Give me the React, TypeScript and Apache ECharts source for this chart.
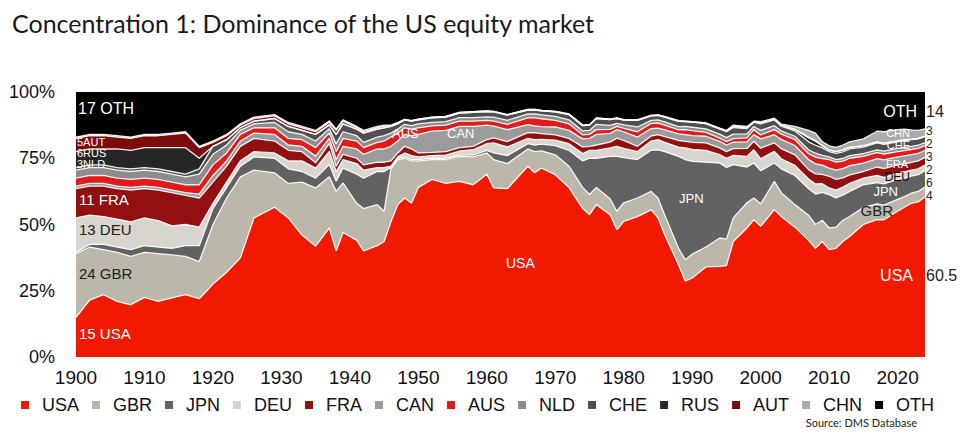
import React, { useEffect, useRef } from "react";
import * as echarts from "echarts";

const years = [1900,1902,1904,1906,1908,1910,1912,1914,1916,1918,1920,1922,1924,1926,1929,1931,1933,1935,1937,1938,1939,1941,1942,1944,1945,1946,1947,1948,1949,1950,1952,1954,1956,1958,1960,1961,1963,1966,1967,1968,1970,1972,1974,1975,1976,1978,1979,1980,1982,1984,1985,1986,1988,1989,1990,1992,1994,1995,1996,1998,1999,2000,2002,2003,2005,2007,2008,2009,2010,2011,2012,2013,2015,2017,2018,2020,2021,2022,2023,2024];

const usa = [15,21.5,23.5,21,19.7,22.5,21,22.3,23.5,22, 27.5,32,37.4,52.5,56.5, 52.5,46,41.8,48.7,40,47, 44,40,42,43.6,51,57.5,60,58, 64,67,65.5,66.3,65, 69,63.8,63.5,72,69.5,71.3, 68.8,64,56,53.7,57.5,53.7,48, 51.2,53,55.5,52.5,46,34.8,28.6, 29.8,34,34.2,34.5,43.6,48.7,51.8, 49.3,55.6,53,49,44,41,43.6, 40.5,41,43.6,45.5,50,51.8,51.8, 55,56.5,58,58.5,60.5];
const gbr = [24,20,17,18.5,18.3,17,18,16.2,14.5,14, 22.5,28,30.6,18,13, 13,20,22,19.3,22.5,18.7, 14,16,15.5,11.4,20,17,15,16, 10,7.5,9,9.4,10.5, 8,10.7,9.5,6.5,8,6.5, 7.5,8,8,7.6,6.5,6,7, 7,7,7,7.5,7.5,6.2,8.1, 9,7.5,10.7,10,8.9,9.5,8.2, 8.5,10.7,9,8.5,9.5,9,8, 8.2,8,8,7.5,6.5,6,5.5, 4.5,4,3.8,4,3.6];
const jpn = [0.5,1,2,2,2.5,2.5,2.5,2.5,4,6, 6,4,4,5,5.5, 5.5,4,3.7,4.6,3.8,5.6, 11,11.5,12.5,15,0.5,0.5,0.5,0.5, 0.5,0.5,0.5,0.5,0.7, 1,2.5,3,2,2.5,2.5, 3.5,6,10,13.7,11,16,20.7, 17,14.5,15.5,18.2,24,34.7,37.8, 35,32,28.3,27,20.1,13.5,13.2, 12.5,6.9,9,11,10,11.5,10.5, 12.6,11,9.5,9.5,8.5,8,8, 7.5,7,6.5,6.3,6.2];
const deu = [13,11,10.5,10.5,10.5,10.5,10,8.5,8,7, 2,2,2,2,2, 3,4,3.8,5,3.7,3.2, 4,3,1.5,1.5,0.5,0.5,1.5,1.5, 1,1,1.2,1.5,2, 2.5,3.8,3.3,2,2,1.8, 2,2.5,2.8,3,3,3.2,3.8, 3.5,3,3.5,3.8,3.5,3.5,4.4, 4.5,4.5,3.2,3.5,3.5,4,5, 4.5,4.4,3.8,3.8,3.7,3.8,3.3, 2.5,3,3,3,2.5,2.7,2.5, 2.5,2.4,2.2,2.2,2.1];
const fra = [11,11,11.5,11.5,12,11,11.5,12.5,11,11, 8,6,5.5,5,4.5, 4,3.5,2,3,2,2, 2,2,2,2,2,1.5,2.5,2.5, 1.5,1.2,1.3,1.3,1.3, 1.5,1.9,2,2.2,2.6,2.2, 2,2,2.5,1.5,2,2.2,3.1, 3,2,1.9,1.9,2.2,2.5,2.5, 2.7,2.8,2.5,2.5,2.5,3,3.2, 4,3.2,3.8,4,3.5,3.8,3.5, 4.4,4,3.5,3.2,2.5,3.2,3.3, 3,3,2.9,3,2.9];
const can = [1,1,1,1,1,1,1,1,1,1.5, 2.5,2,2,2,2.5, 2,2,2.5,2,2.5,3, 3.5,4,5,5,5.5,4.5,4.5,5, 7,8,8,8,7.5, 5.5,4.4,4.5,3,2.6,2.6, 3,3,3,3,4,3.3,3.2, 3.3,3.5,2.8,2.5,2.5,2.5,2.5, 2.5,2.5,2.5,2.5,2.5,2.5,2.5, 3.5,3.1,3.5,3.5,3.8,3.8,3.5, 3.1,3.5,3.5,3.5,3.2,3.2,3.3, 3,3,3,2.8,2.7];
const aus = [3,3,3,3,3,3,3,3,3,3.5, 4,3,2.5,2,2.5, 2.5,2.5,3.2,2,3,3, 3,2.5,2.5,3,3.5,3,2.5,2.5, 2.5,2,2,2,2, 1.8,1.9,2,2.5,3,3, 2.5,2.5,1.5,1.5,1.8,1.5,1.2, 1.3,2,1.9,1.9,1.8,1.5,1.9, 1.9,1.5,1.2,1.3,1.3,1.5,1.9, 1.5,1.9,2,2.2,2.2,2.5,2.5, 3.2,3,2.8,2.8,2.5,2.2,2.2, 2,2,1.9,1.9,1.8];
const nld = [3,3,3,3,3,3,3,3,3,4, 4,3,1.5,1.5,2, 2.5,2,2.5,1.5,3,2.5, 2,2,2,2,1.5,1.5,1.3,1.3, 1.5,1.3,1.3,1.3,1.3, 1.3,1.5,1.5,1.5,1.5,1.5, 1.5,1.5,1.5,1.5,2,1.5,1.2, 1.3,1.8,1.2,1.2,1.2,1.2,1.2, 1.3,1.3,1.5,1.5,1.7,1.5,1.2, 1.7,1.5,1.2,1.3,1.5,1.5,1.2, 1,1,1,1,1,1.1,1.1, 1.2,1.2,1.2,1.2,1.1];
const che = [1,1,1,1,1,1,1,1,1,2, 3,2,1,1,1.5, 2,1.5,2.5,1.5,3.5,3, 2.5,3.5,3,3,2.5,2,1.7,1.7, 1.5,1.7,1.7,1.7,2, 2,2,2,1.5,1.5,1.5, 1.7,2,2,2,2.2,2.2,1.8, 1.8,2.5,1.7,1.7,1.8,2,1.8, 1.9,2,2,2.2,2.5,2,1.6, 2.5,2.2,1.8,2,3,3,2.8, 2,2.3,2.5,2.5,2.5,2.6,2.5, 2.5,2.5,2.5,2.4,2.3];
const rus = [6,6,6,7,7,7.5,8,9,10,4, 0,0,0,0,0, 0,0,0,0,0,0, 0,0,0,0,0,0,0,0, 0,0,0,0,0, 0,0,0,0,0,0, 0,0,0,0,0,0,0, 0,0,0,0,0,0,0, 0,0,0,0.1,0.3,0.2,0.1, 0.2,0.2,0.3,0.5,1.5,1.5,0.7, 0.5,0.6,0.6,0.5,0.5,0.3,0.4, 0.3,0.3,0.1,0.1,0.1];
const aut = [5,5,5,4.5,4.5,4.5,4.5,5,5.5,4, 1.5,1.5,1,1,1, 1,1,1,1,1.5,1, 0.5,0.5,0.5,0.5,0.3,0.3,0.2,0.2, 0.3,0.3,0.3,0.3,0.3, 0.3,0.2,0.2,0.2,0.2,0.2, 0.2,0.2,0.2,0.2,0.2,0.2,0.2, 0.2,0.2,0.2,0.2,0.2,0.3,0.2, 0.2,0.2,0.2,0.2,0.2,0.2,0.1, 0.1,0.1,0.1,0.2,0.3,0.3,0.2, 0.2,0.2,0.2,0.2,0.1,0.1,0.1, 0.1,0.1,0.1,0.1,0.1];
const chn = [0.5,0.5,0.5,0.5,0.5,0.5,0.5,0.5,0.5,0.5, 0.5,0.5,0.5,0.5,0.5, 0.5,0.5,0.5,0.5,0.5,0.5, 0.5,0.5,0.5,0.5,0.2,0.2,0,0, 0,0,0,0,0, 0,0,0,0,0,0, 0,0,0,0,0,0,0, 0,0,0,0,0,0,0, 0,0,0.1,0.2,0.4,0.4,0.2, 0.5,0.3,0.4,1,2.5,2.8,1.5, 1.5,1.5,1.8,2,2.5,4,4.3, 4.2,4,3.5,3,2.7];
const oth = [17,16,16,16.5,17,16,16,15.5,15,20.5, 18.5,16,12,9.5,8.5, 11.5,13,14.5,10.9,14,10.5, 13,14.5,13,12.5,12.5,11.5,10.3,10.8, 10.2,9.5,9.2,7.7,7.4, 7.1,7.3,8.5,6.6,6.6,6.9, 7.3,8.3,12.5,12.3,9.8,10.2,9.8, 10.4,10.5,8.8,8.6,9.3,10.8,11, 11.2,11.7,13.6,14.5,12.5,13,11, 11.2,9.9,12.1,13,14.5,15.5,18.7, 20.3,20.9,20,18.8,17.7,14.8,15, 14.2,14,14.3,14.5,13.9];

const seriesNames = ["USA","GBR","JPN","DEU","FRA","CAN","AUS","NLD","CHE","RUS","AUT","CHN","OTH"];
const seriesValues = [usa,gbr,jpn,deu,fra,can,aus,nld,che,rus,aut,chn,oth];
const seriesColors = ["#f11a00","#bcb7ab","#626262","#d7d5ce","#921010","#9b9b9b","#e11b1b","#8c8c8c","#4f4f4f","#262626","#7c0b0b","#ababab","#000000"];

const endValueLabels = ["14","3","2","3","2","6","4","60.5"];

const LABEL_FONT = "'Liberation Sans', Arial, sans-serif";

type Lbl = { t: string; x: number; y: number; c: string; s: number; a?: string };
const annotations: Lbl[] = [
  { t: "17 OTH", x: 78, y: 108, c: "#ffffff", s: 16 },
  { t: "5AUT", x: 77, y: 142, c: "#ffffff", s: 11 },
  { t: "6RUS", x: 77, y: 153, c: "#ffffff", s: 11 },
  { t: "3NLD", x: 77, y: 164, c: "#ffffff", s: 11 },
  { t: "11 FRA", x: 79, y: 199, c: "#ffffff", s: 15 },
  { t: "13 DEU", x: 79, y: 229, c: "#222222", s: 15 },
  { t: "24 GBR", x: 79, y: 273, c: "#222222", s: 15 },
  { t: "15 USA", x: 79, y: 333, c: "#ffffff", s: 15 },
  { t: "AUS", x: 392, y: 133, c: "#ffffff", s: 13 },
  { t: "CAN", x: 447, y: 133, c: "#ffffff", s: 13 },
  { t: "USA", x: 506, y: 263, c: "#ffffff", s: 14 },
  { t: "JPN", x: 679, y: 198, c: "#ffffff", s: 13 },
  { t: "OTH", x: 917, y: 111, c: "#ffffff", s: 16, a: "right" },
  { t: "CHN", x: 910, y: 133, c: "#ffffff", s: 11, a: "right" },
  { t: "CHE", x: 910, y: 145, c: "#ffffff", s: 11, a: "right" },
  { t: "FRA", x: 908, y: 164, c: "#ffffff", s: 11, a: "right" },
  { t: "DEU", x: 910, y: 177, c: "#111111", s: 12, a: "right" },
  { t: "JPN", x: 898, y: 191, c: "#ffffff", s: 13, a: "right" },
  { t: "GBR", x: 893, y: 210, c: "#222222", s: 15, a: "right" },
  { t: "USA", x: 913, y: 275, c: "#ffffff", s: 16, a: "right" },
];
const endLabelY = [111, 131, 144, 157, 170, 183, 196, 275];
const endLabelSize = [16, 12, 12, 12, 12, 12, 12, 16];

export default function App() {
  const ref = useRef<HTMLDivElement>(null);
  useEffect(() => {
    const chart = echarts.init(ref.current!, null, { renderer: "svg" });
    const graphics: any[] = annotations.map((l) => ({
      type: "text",
      x: l.x,
      y: l.y,
      z: 100,
      style: {
        text: l.t,
        fill: l.c,
        fontSize: l.s,
        fontFamily: LABEL_FONT,
        align: l.a || "left",
        verticalAlign: "middle",
      },
    }));
    endValueLabels.forEach((t, i) => {
      graphics.push({
        type: "text",
        x: 926,
        y: endLabelY[i],
        z: 100,
        style: {
          text: t,
          fill: "#222",
          fontSize: endLabelSize[i],
          lineHeight: endLabelSize[i],
          fontFamily: LABEL_FONT,
          align: "left",
          verticalAlign: "middle",
        },
      });
    });
    graphics.push({
      type: "text",
      right: 48,
      top: 417,
      style: { text: "Source: DMS Database", fill: "#222", fontSize: 11, fontFamily: "Lato, 'Open Sans', sans-serif" },
    });

    chart.setOption({
      animation: false,
      backgroundColor: "#ffffff",
      title: {
        text: "Concentration 1: Dominance of the US equity market",
        left: 7,
        top: 5,
        textStyle: { fontFamily: "Lato, 'Open Sans', sans-serif", fontSize: 25, fontWeight: "normal", color: "#1a1a1a" },
      },
      grid: { left: 76, right: 40, top: 92, bottom: 79 },
      legend: {
        left: 16,
        top: 391,
        icon: "rect",
        itemWidth: 8,
        itemHeight: 8,
        itemGap: 13,
        textStyle: { fontFamily: LABEL_FONT, fontSize: 18, color: "#111", padding: [0, 0, 0, 8] },
        data: seriesNames.map((n, i) => ({ name: n, icon: "rect", itemStyle: { color: seriesColors[i], borderWidth: 0 } })),
      },
      xAxis: {
        type: "value",
        min: 1900,
        max: 2024,
        interval: 10,
        axisLine: { show: false },
        axisTick: { show: false },
        splitLine: { show: false },
        axisLabel: {
          fontFamily: LABEL_FONT,
          fontSize: 19,
          color: "#111",
          margin: 11,
          showMaxLabel: false,
          formatter: (v: number) => (v % 10 === 0 ? String(v) : ""),
        },
      },
      yAxis: {
        type: "value",
        min: 0,
        max: 100,
        interval: 25,
        axisLine: { show: false },
        axisTick: { show: false },
        splitLine: { show: false },
        axisLabel: { fontFamily: LABEL_FONT, fontSize: 18, color: "#111", margin: 21, formatter: "{value}%" },
      },
      series: seriesNames.map((name, i) => ({
        name,
        type: "line",
        stack: "total",
        symbol: "none",
        showSymbol: false,
        // value first so that the share dimension is the one stacked
        data: years.map((y, j) => [seriesValues[i][j], y]),
        encode: { x: 1, y: 0 },
        lineStyle: { color: "#ffffff", width: i === 12 ? 0 : 1.3, opacity: 0.9 },
        itemStyle: { color: seriesColors[i] },
        areaStyle: { color: seriesColors[i], opacity: 1 },
        emphasis: { disabled: true },
        silent: true,
      })),
      graphic: graphics,
    });
    return () => chart.dispose();
  }, []);
  return <div ref={ref} style={{ position: "absolute", left: 0, top: 0, width: 965, height: 436 }} />;
}
